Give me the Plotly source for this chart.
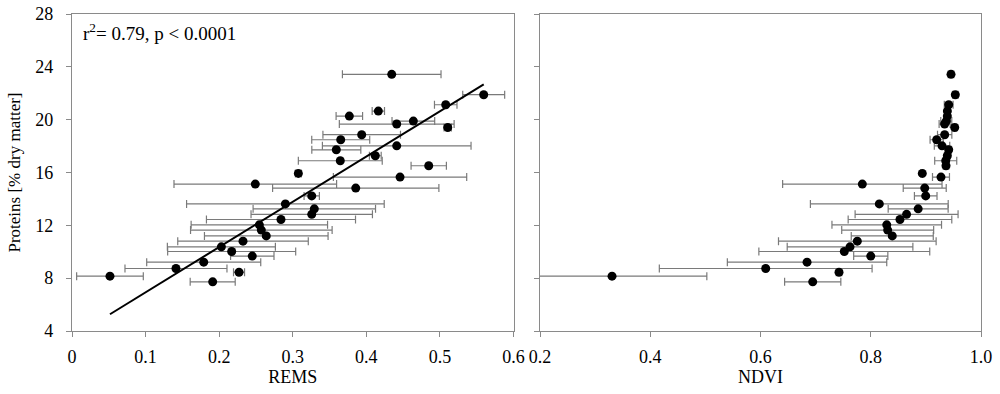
import plotly.graph_objects as go
from plotly.subplots import make_subplots

# Protein content (% dry matter), one value per sample
protein = [8.15, 8.73, 7.72, 8.45, 9.21, 9.67, 10.02, 10.37, 10.80, 11.20, 11.64, 12.04,
           12.44, 12.83, 13.25, 13.62, 14.23, 14.82, 15.12, 15.65, 15.93, 16.51, 16.89,
           17.27, 17.72, 18.02, 18.48, 18.86, 19.41, 19.67, 19.89, 20.27, 20.65, 21.13,
           21.89, 23.43]

# REMS index and its error (left panel)
rems = [0.0516, 0.1413, 0.1912, 0.2270, 0.1790, 0.2450, 0.2170, 0.2030, 0.2324, 0.2640,
        0.2573, 0.2546, 0.2840, 0.3258, 0.3293, 0.2900, 0.3258, 0.3856, 0.2491, 0.4458,
        0.3076, 0.4848, 0.3646, 0.4122, 0.3592, 0.4413, 0.3652, 0.3937, 0.5106, 0.4413,
        0.4639, 0.3769, 0.4163, 0.5079, 0.5595, 0.4345]
rems_err = [0.0453, 0.0693, 0.0306, 0.0075, 0.0775, 0.0295, 0.0870, 0.0734, 0.0887, 0.0840,
            0.0962, 0.0927, 0.1013, 0.0825, 0.0832, 0.1343, 0.0104, 0.1130, 0.1105, 0.0906,
            0.0040, 0.0240, 0.0570, 0.0080, 0.0333, 0.1010, 0.0394, 0.0527, 0.0050, 0.0780,
            0.0290, 0.0180, 0.0084, 0.0153, 0.0285, 0.0670]

# NDVI index and its error (right panel)
ndvi = [0.3306, 0.6094, 0.6947, 0.7424, 0.6844, 0.8000, 0.7520, 0.7624, 0.7756, 0.8390,
        0.8307, 0.8290, 0.8530, 0.8650, 0.8860, 0.8155, 0.8997, 0.8979, 0.7847, 0.9274,
        0.8935, 0.9365, 0.9360, 0.9389, 0.9414, 0.9293, 0.9196, 0.9341, 0.9523, 0.9340,
        0.9370, 0.9389, 0.9390, 0.9414, 0.9534, 0.9456]
ndvi_err = [0.1720, 0.1930, 0.0510, 0.0050, 0.1446, 0.0310, 0.1550, 0.1140, 0.1430, 0.0744,
            0.0834, 0.0994, 0.0940, 0.0934, 0.0544, 0.1250, 0.0205, 0.0390, 0.1446, 0.0154,
            0.0030, 0.0050, 0.0200, 0.0050, 0.0050, 0.0140, 0.0120, 0.0130, 0.0040, 0.0100,
            0.0100, 0.0050, 0.0050, 0.0080, 0.0050, 0.0050]

# Regression line endpoints (REMS vs protein)
fit_x = [0.0516, 0.5595]
fit_y = [5.27, 22.67]

y_ticks = [4, 8, 12, 16, 20, 24, 28]
rems_ticks = [0, 0.1, 0.2, 0.3, 0.4, 0.5, 0.6]
rems_labels = ["0", "0.1", "0.2", "0.3", "0.4", "0.5", "0.6"]
ndvi_ticks = [0.2, 0.4, 0.6, 0.8, 1.0]
ndvi_labels = ["0.2", "0.4", "0.6", "0.8", "1.0"]

FONT = "Liberation Serif"
AXIS_COLOR = "#8a8a8a"
ERR_COLOR = "#7a7a7a"

fig = make_subplots(rows=1, cols=2, horizontal_spacing=0.029)

marker = dict(color="black", size=9, symbol="circle")

fig.add_trace(go.Scatter(
    x=rems, y=protein, mode="markers", marker=marker,
    error_x=dict(type="data", array=rems_err, visible=True, color=ERR_COLOR,
                 thickness=1.2, width=4),
    showlegend=False), row=1, col=1)

fig.add_trace(go.Scatter(
    x=fit_x, y=fit_y, mode="lines", line=dict(color="black", width=2),
    showlegend=False), row=1, col=1)

fig.add_trace(go.Scatter(
    x=ndvi, y=protein, mode="markers", marker=marker,
    error_x=dict(type="data", array=ndvi_err, visible=True, color=ERR_COLOR,
                 thickness=1.2, width=4),
    showlegend=False), row=1, col=2)

axis_common = dict(showline=True, linecolor=AXIS_COLOR, linewidth=1.3, mirror=True,
                   ticks="outside", ticklen=5, tickcolor=AXIS_COLOR, tickwidth=1.2,
                   showgrid=False, zeroline=False, automargin=False,
                   tickfont=dict(family=FONT, size=18, color="black"))

fig.update_xaxes(**axis_common, ticklabelstandoff=4)
fig.update_yaxes(**axis_common, ticklabelstandoff=9)

fig.update_xaxes(range=[0, 0.6], tickvals=rems_ticks, ticktext=rems_labels,
                 title=dict(text="REMS", font=dict(family=FONT, size=18, color="black"),
                            standoff=4),
                 domain=[0, 0.4857], row=1, col=1)
fig.update_xaxes(range=[0.2, 1.0], tickvals=ndvi_ticks, ticktext=ndvi_labels,
                 title=dict(text="NDVI", font=dict(family=FONT, size=18, color="black"),
                            standoff=4),
                 domain=[0.5149, 1], row=1, col=2)
fig.update_yaxes(range=[4, 28], tickvals=y_ticks,
                 title=dict(text="Proteins [% dry matter]",
                            font=dict(family=FONT, size=17, color="black"), standoff=10),
                 row=1, col=1)
fig.update_yaxes(range=[4, 28], tickvals=y_ticks, showticklabels=False, row=1, col=2)

fig.add_annotation(xref="x", yref="y", x=0.012, y=26.6, xanchor="left", yanchor="middle",
                   text="r<sup>2</sup>= 0.79, p < 0.0001", showarrow=False,
                   font=dict(family=FONT, size=19, color="black"))

fig.update_layout(width=1000, height=394, margin=dict(l=72, r=19, t=14, b=63),
                  plot_bgcolor="white", paper_bgcolor="white",
                  font=dict(family=FONT, size=16, color="black"))

fig.write_html("out.html", config={"displayModeBar": False},
               post_script="document.body.style.margin='0';document.body.style.overflow='hidden';")
